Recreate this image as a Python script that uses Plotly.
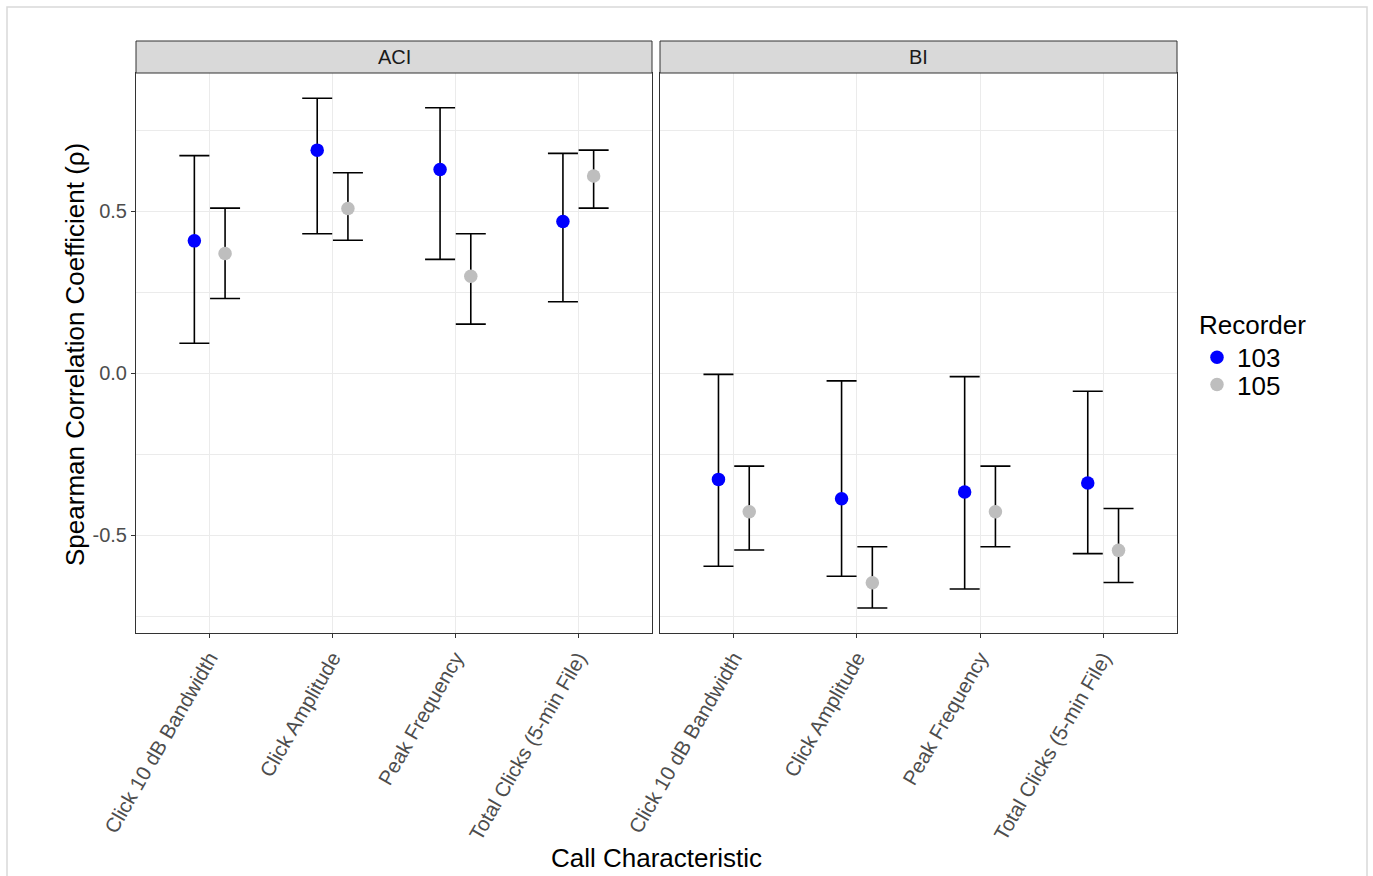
import numpy as np
import plotly.graph_objects as go

categories = ["Click 10 dB Bandwidth", "Click Amplitude", "Peak Frequency", "Total Clicks (5-min File)"]
recorders = ["103", "105"]
colors = {"103": "#0000FF", "105": "#BEBEBE"}

# ACI panel
aci_103_est = [0.408, 0.688, 0.628, 0.468]
aci_103_lo = [0.092, 0.430, 0.351, 0.220]
aci_103_hi = [0.671, 0.848, 0.819, 0.678]
aci_105_est = [0.369, 0.508, 0.299, 0.608]
aci_105_lo = [0.230, 0.410, 0.151, 0.509]
aci_105_hi = [0.509, 0.618, 0.430, 0.688]

# BI panel
bi_103_est = [-0.328, -0.388, -0.367, -0.339]
bi_103_lo = [-0.596, -0.627, -0.666, -0.557]
bi_103_hi = [-0.004, -0.024, -0.011, -0.056]
bi_105_est = [-0.428, -0.647, -0.428, -0.547]
bi_105_lo = [-0.546, -0.725, -0.536, -0.646]
bi_105_hi = [-0.287, -0.536, -0.287, -0.418]

yticks = [-0.5, 0.0, 0.5]
yticklabels = ["-0.5", "0.0", "0.5"]

panels = {
    "ACI": {"103": (aci_103_est, aci_103_lo, aci_103_hi), "105": (aci_105_est, aci_105_lo, aci_105_hi)},
    "BI": {"103": (bi_103_est, bi_103_lo, bi_103_hi), "105": (bi_105_est, bi_105_lo, bi_105_hi)},
}

W, H = 1373, 876
L, R, T, B = 136, 1373 - 1177, 41, 876 - 633
pw = W - L - R
ph = H - T - B
def px_x(px):
    return (px - L) / pw
def px_y(py):
    return (H - B - py) / ph

dodge = {"103": -0.125, "105": 0.125}
legend_ref = {"103": "legend", "105": "legend2"}
base = np.arange(len(categories)) + 1

fig = go.Figure()
axes = [("x", "y", "ACI"), ("x2", "y2", "BI")]
for xa, ya, pname in axes:
    for rec in recorders:
        est, lo, hi = (np.array(v) for v in panels[pname][rec])
        fig.add_trace(go.Scatter(
            x=base + dodge[rec], y=est, xaxis=xa, yaxis=ya,
            mode="markers", name=rec, legendgroup=rec, legend=legend_ref[rec],
            showlegend=(pname == "ACI"),
            marker=dict(color=colors[rec], size=13.5, line=dict(width=0)),
            error_y=dict(type="data", symmetric=False, array=hi - est, arrayminus=est - lo,
                         color="black", thickness=1.6, width=15),
        ))

ydom_top = 560 / ph
grid = "#EBEBEB"
common_x = dict(range=[0.4, 4.6], tickvals=list(base), ticktext=categories, tickangle=-60,
                showgrid=True, gridcolor=grid, gridwidth=1.1, zeroline=False,
                showline=True, mirror=True, linecolor="#333333", linewidth=1,
                ticks="outside", ticklen=4, tickcolor="#333333", tickwidth=1,
                tickfont=dict(family="Liberation Sans, Arial", size=20.5, color="#4D4D4D"))
common_y = dict(range=[-0.802, 0.926], domain=[0, ydom_top], tickvals=yticks,
                showgrid=True, gridcolor=grid, gridwidth=1.1, zeroline=False,
                minor=dict(dtick=0.25, tick0=0, showgrid=True, gridcolor=grid, gridwidth=0.6),
                showline=True, mirror=True, linecolor="#333333", linewidth=1)

fig.update_layout(
    width=W, height=H, margin=dict(l=L, r=R, t=T, b=B),
    paper_bgcolor="white", plot_bgcolor="white",
    font=dict(family="Liberation Sans, Arial", color="black"),
    xaxis=dict(domain=[0, px_x(652)], **common_x),
    xaxis2=dict(domain=[px_x(660), 1], **common_x),
    yaxis=dict(anchor="x", ticktext=yticklabels, ticks="outside", ticklen=4, tickcolor="#333333",
               tickfont=dict(family="Liberation Sans, Arial", size=20, color="#4D4D4D"), **common_y),
    yaxis2=dict(anchor="x2", matches="y", showticklabels=False, ticks="", **common_y),
    legend=dict(x=px_x(1197), y=px_y(300), xanchor="left", yanchor="top",
                bgcolor="rgba(0,0,0,0)",
                font=dict(size=26, color="black"), tracegroupgap=0,
                title=dict(text="Recorder", font=dict(size=26, color="black"))),
    legend2=dict(x=px_x(1197), y=px_y(361), xanchor="left", yanchor="top",
                 bgcolor="rgba(0,0,0,0)",
                 font=dict(size=26, color="black"), tracegroupgap=0),
    showlegend=True,
)

shapes = []
annotations = []
strip_y0, strip_y1 = px_y(73), px_y(41)
for (x0, x1), label in [((136, 652), "ACI"), ((660, 1177), "BI")]:
    shapes.append(dict(type="rect", xref="paper", yref="paper",
                       x0=px_x(x0), x1=px_x(x1), y0=strip_y0, y1=strip_y1,
                       fillcolor="#D9D9D9", line=dict(color="#333333", width=1), layer="above"))
    annotations.append(dict(text=label, xref="paper", yref="paper",
                            x=(px_x(x0) + px_x(x1)) / 2, y=(strip_y0 + strip_y1) / 2,
                            xanchor="center", yanchor="middle", showarrow=False,
                            font=dict(size=20, color="#1A1A1A")))
# outer frame
shapes.append(dict(type="rect", xref="paper", yref="paper",
                   x0=px_x(7), x1=px_x(1367), y0=px_y(890), y1=px_y(7),
                   fillcolor="rgba(0,0,0,0)", line=dict(color="#D9D9D9", width=1.5), layer="below"))
annotations.append(dict(text="Call Characteristic", xref="paper", yref="paper",
                        x=px_x(656), y=px_y(858), xanchor="center", yanchor="middle",
                        showarrow=False, font=dict(size=26, color="black")))
annotations.append(dict(text="Spearman Correlation Coefficient (ρ)", xref="paper", yref="paper",
                        x=px_x(75), y=px_y(355), xanchor="center", yanchor="middle",
                        textangle=-90, showarrow=False, font=dict(size=26, color="black")))
fig.update_layout(shapes=shapes, annotations=annotations)

fig.write_html("out.html")
